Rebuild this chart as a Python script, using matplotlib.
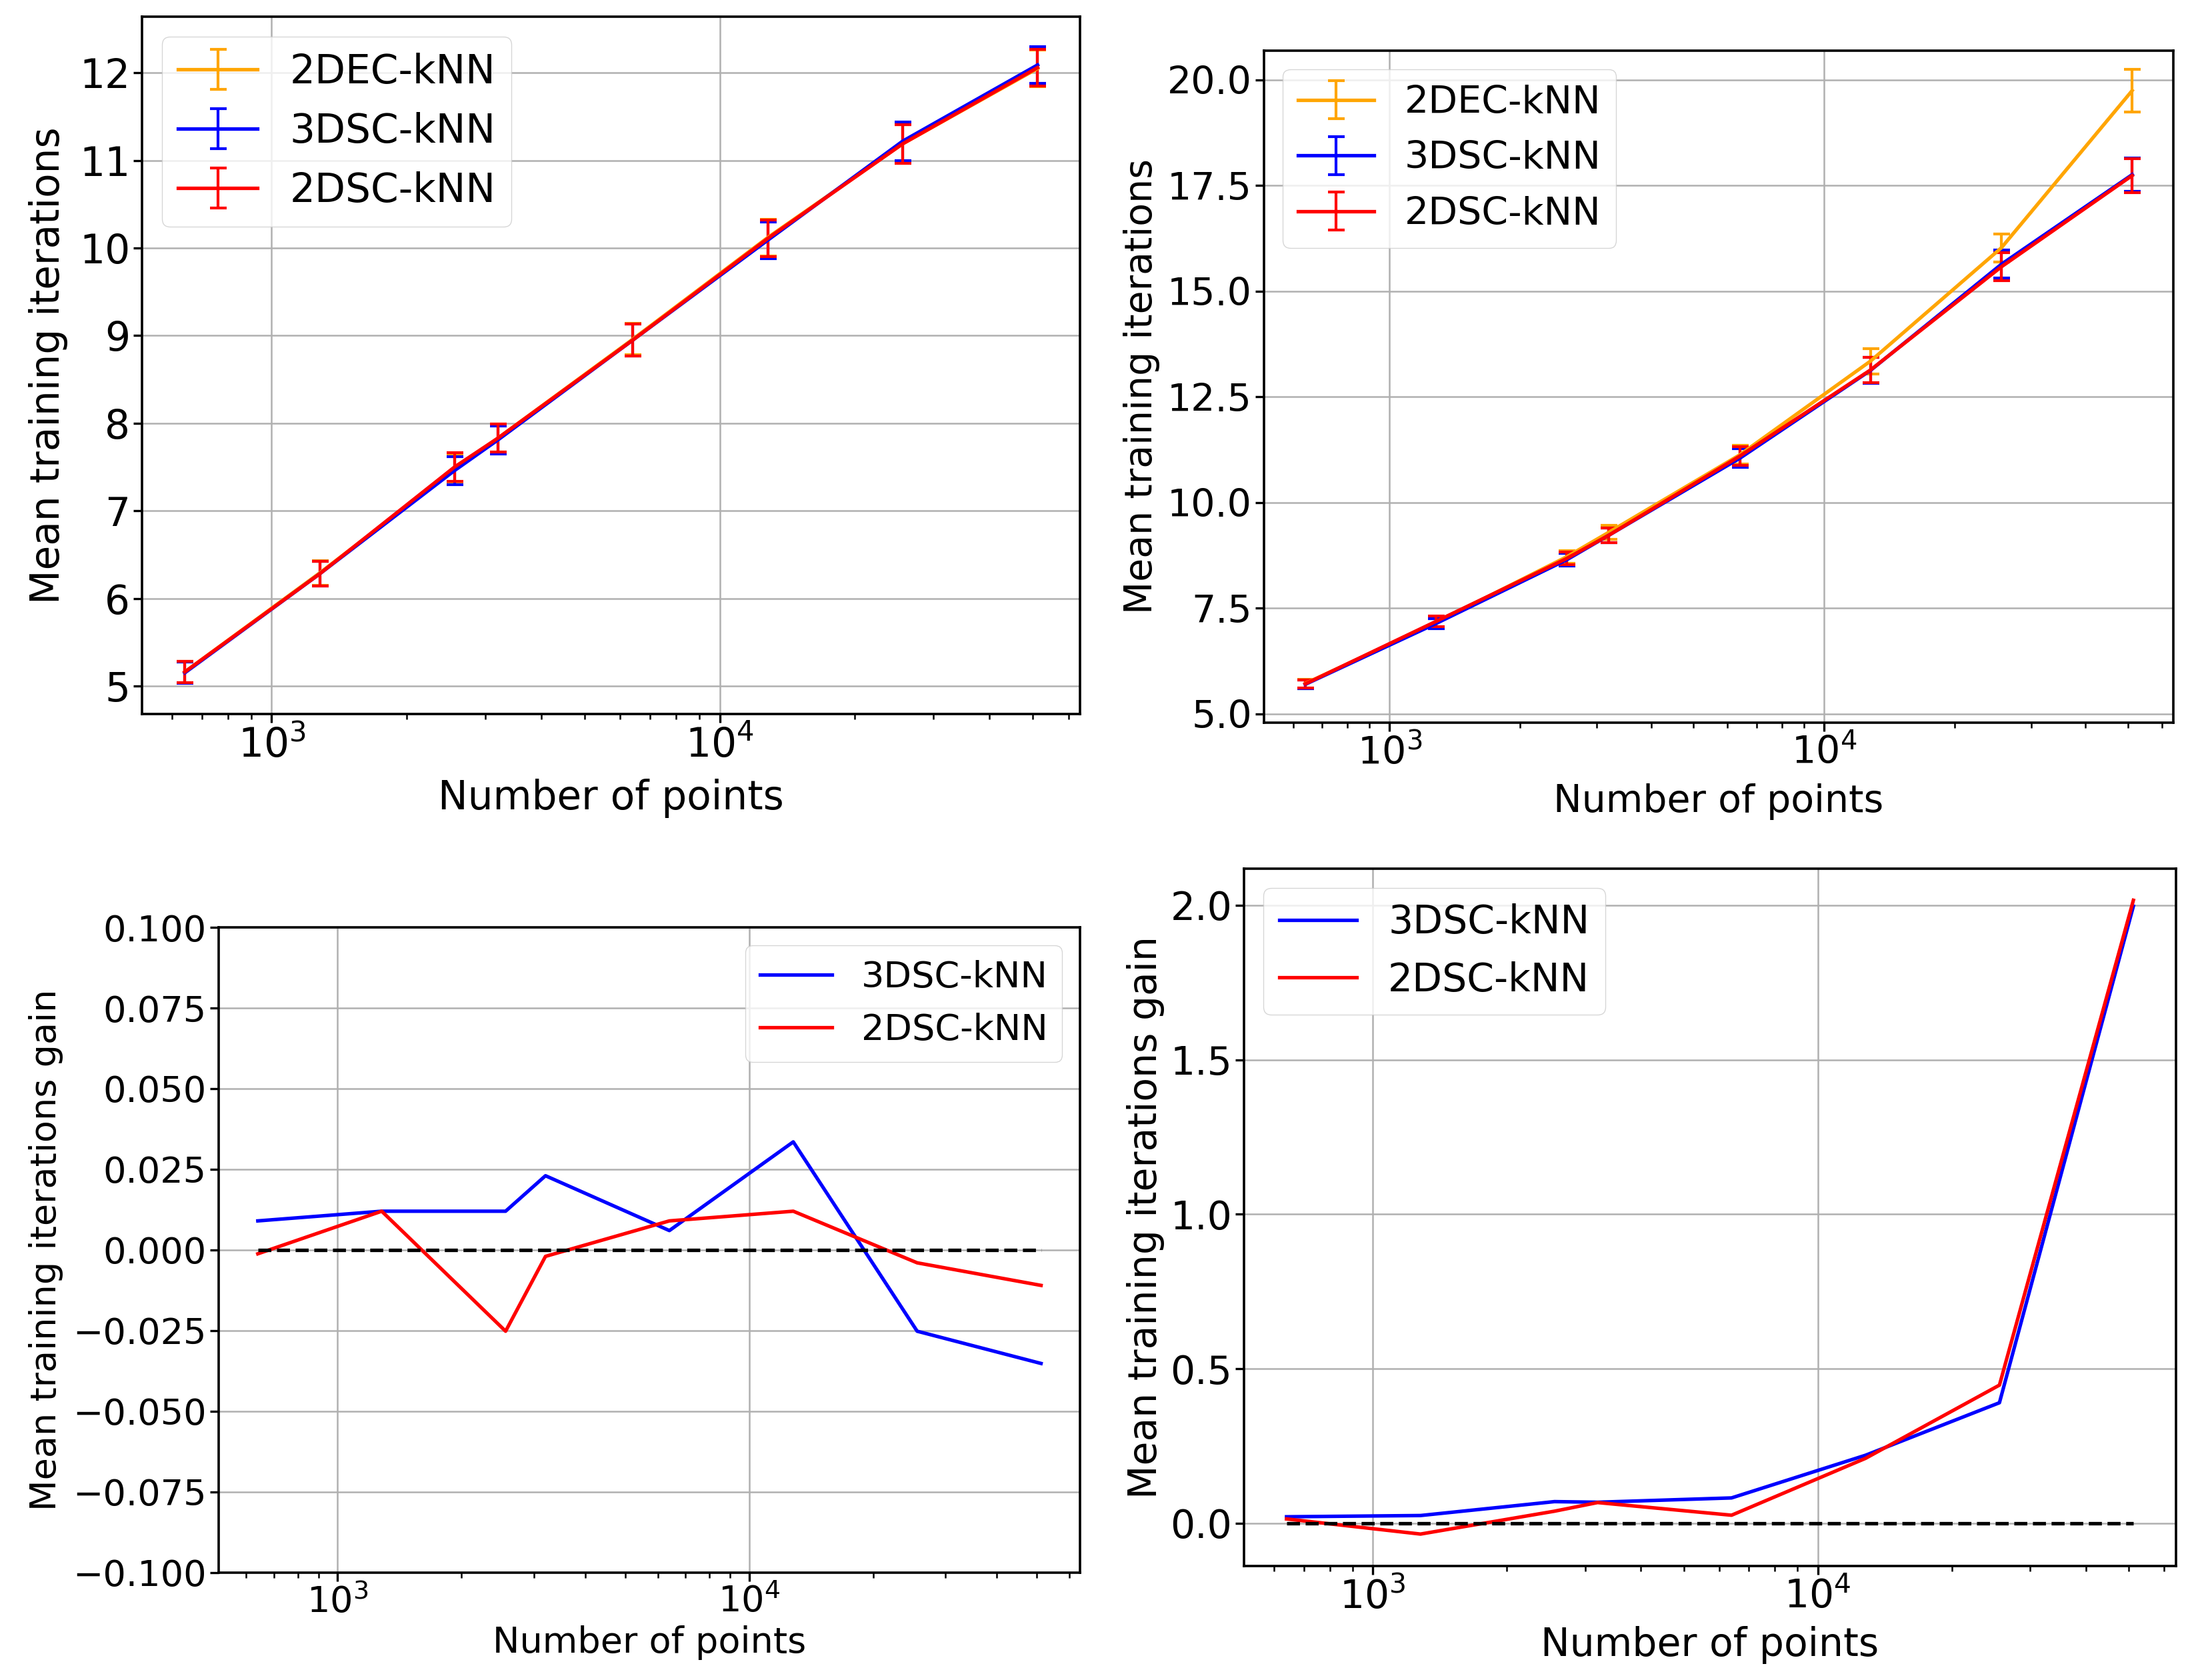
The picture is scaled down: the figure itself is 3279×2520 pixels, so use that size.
import numpy as np
import matplotlib.pyplot as plt

# number of points (x axis, log scale)
n_points = [640, 1280, 2560, 3200, 6400, 12800, 25600, 51200]

# top-left panel: mean training iterations
tl_2dec = [5.16, 6.29, 7.47, 7.83, 8.96, 10.12, 11.19, 12.05]
tl_3dsc = [5.15, 6.28, 7.46, 7.81, 8.95, 10.09, 11.22, 12.09]
tl_2dsc = [5.16, 6.28, 7.50, 7.83, 8.95, 10.11, 11.19, 12.06]
tl_err = [0.12, 0.14, 0.16, 0.16, 0.18, 0.21, 0.22, 0.21]

# top-right panel: mean training iterations
tr_2dec = [5.72, 7.16, 8.72, 9.30, 11.13, 13.35, 16.03, 19.75]
tr_3dsc = [5.70, 7.14, 8.65, 9.23, 11.05, 13.13, 15.64, 17.76]
tr_2dsc = [5.71, 7.19, 8.68, 9.23, 11.10, 13.14, 15.58, 17.74]
tr_err_2dec = [0.10, 0.12, 0.15, 0.17, 0.22, 0.30, 0.33, 0.50]
tr_err_sc = [0.10, 0.12, 0.15, 0.17, 0.22, 0.30, 0.33, 0.40]

# bottom-left panel: gain w.r.t. 2DEC-kNN
bl_3dsc = [0.009, 0.012, 0.012, 0.023, 0.006, 0.0335, -0.0252, -0.0352]
bl_2dsc = [-0.0012, 0.012, -0.0252, -0.002, 0.009, 0.012, -0.004, -0.011]

# bottom-right panel: gain w.r.t. 2DEC-kNN
br_3dsc = [0.021, 0.025, 0.070, 0.068, 0.082, 0.22, 0.39, 1.997]
br_2dsc = [0.014, -0.035, 0.039, 0.067, 0.026, 0.21, 0.447, 2.016]

LW = 3.8
plt.rcParams.update({
    'axes.linewidth': 2.6,
    'xtick.major.size': 9.5, 'xtick.major.width': 2.4,
    'ytick.major.size': 9.5, 'ytick.major.width': 2.4,
    'xtick.minor.size': 6, 'xtick.minor.width': 1.8,
    'grid.linewidth': 1.8, 'grid.color': '#b0b0b0',
    'legend.edgecolor': '#cccccc',
})

fig = plt.figure(figsize=(32.8, 25.2), dpi=100)

ax_tl = fig.add_axes([0.065, 0.575, 0.429, 0.415])
ax_tr = fig.add_axes([0.578, 0.570, 0.416, 0.400])
ax_bl = fig.add_axes([0.100, 0.064, 0.394, 0.384])
ax_br = fig.add_axes([0.569, 0.068, 0.426, 0.415])
sizes = {ax_tl: 43, ax_tr: 41, ax_bl: 39, ax_br: 42}
xpads = {ax_tl: 14, ax_tr: 12, ax_bl: 6, ax_br: 10}
ypads = {ax_tl: 12, ax_tr: 8, ax_bl: 10, ax_br: 6}

eb = dict(lw=LW, capsize=9, capthick=3, elinewidth=3)

ax_tl.errorbar(n_points, tl_2dec, yerr=tl_err, color='orange', label='2DEC-kNN', **eb)
ax_tl.errorbar(n_points, tl_3dsc, yerr=tl_err, color='blue', label='3DSC-kNN', **eb)
ax_tl.errorbar(n_points, tl_2dsc, yerr=tl_err, color='red', label='2DSC-kNN', **eb)
ax_tl.set_ylim(4.68, 12.64)
ax_tl.set_yticks(range(5, 13))

ax_tr.errorbar(n_points, tr_2dec, yerr=tr_err_2dec, color='orange', label='2DEC-kNN', **eb)
ax_tr.errorbar(n_points, tr_3dsc, yerr=tr_err_sc, color='blue', label='3DSC-kNN', **eb)
ax_tr.errorbar(n_points, tr_2dsc, yerr=tr_err_sc, color='red', label='2DSC-kNN', **eb)
ax_tr.set_ylim(4.8, 20.7)
ax_tr.set_yticks(np.arange(5, 20.1, 2.5))

for ax in (ax_tl, ax_tr):
    ax.set_ylabel('Mean training iterations', fontsize=sizes[ax], labelpad=ypads[ax])
    ax.legend(loc='upper left', fontsize=sizes[ax])

ax_bl.plot(n_points, bl_3dsc, color='blue', lw=LW, label='3DSC-kNN')
ax_bl.plot(n_points, bl_2dsc, color='red', lw=LW, label='2DSC-kNN')
ax_bl.plot([n_points[0], n_points[-1]], [0, 0], 'k--', lw=LW)
ax_bl.set_ylim(-0.1, 0.1)
ax_bl.legend(loc='upper right', fontsize=sizes[ax_bl])

ax_br.plot(n_points, br_3dsc, color='blue', lw=LW, label='3DSC-kNN')
ax_br.plot(n_points, br_2dsc, color='red', lw=LW, label='2DSC-kNN')
ax_br.plot([n_points[0], n_points[-1]], [0, 0], 'k--', lw=LW)
ax_br.legend(loc='upper left', fontsize=sizes[ax_br])

for ax in (ax_bl, ax_br):
    ax.set_ylabel('Mean training iterations gain', fontsize=sizes[ax], labelpad=ypads[ax])

for ax in (ax_tl, ax_tr, ax_bl, ax_br):
    ax.set_xscale('log')
    ax.set_xlabel('Number of points', fontsize=sizes[ax], labelpad=xpads[ax])
    ax.tick_params(labelsize=sizes[ax])
    ax.grid(True)

fig.savefig('out.png', dpi=100)
